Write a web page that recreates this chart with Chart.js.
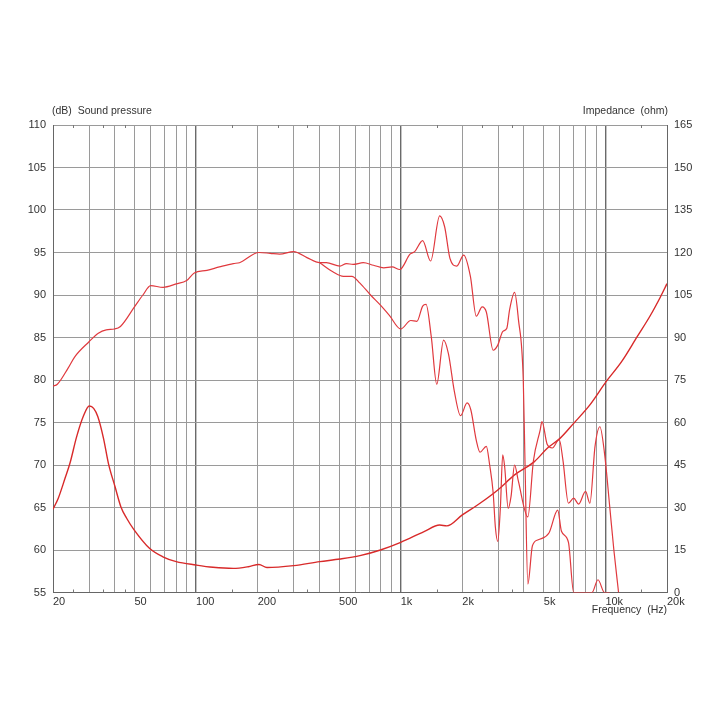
<!DOCTYPE html>
<html>
<head>
<meta charset="utf-8">
<script src="https://cdn.jsdelivr.net/npm/chart.js@4.4.1/dist/chart.umd.min.js"></script>
<style>
  html, body { margin: 0; padding: 0; background: #fff; }
</style>
</head>
<body>
<canvas id="chart" width="720" height="720"></canvas>
<script>
// frequency grid and labels (Hz)
const xGridValues = [20, 30, 40, 50, 60, 70, 80, 90, 100, 200, 300, 400, 500, 600, 700, 800, 900,
    1000, 2000, 3000, 4000, 5000, 6000, 7000, 8000, 9000, 10000, 20000];
const xLabelValues = [20, 50, 100, 200, 500, 1000, 2000, 5000, 10000, 20000];
const xLabelTexts = ["20", "50", "100", "200", "500", "1k", "2k", "5k", "10k", "20k"];
const xMinorTicks = [25, 35, 45, 150, 250, 350, 1500, 2500, 3500, 15000];
const decadeLines = [100, 1000, 10000];

// on-axis sound pressure (dB)
const freqA = [20, 21, 23.7, 25.5, 30, 33.3, 36.4, 40, 42.7, 50, 55, 60, 69, 80, 90, 98, 113, 130, 152, 163,
    203, 230, 256, 300, 348, 402, 433, 505, 543, 585, 656, 736, 826, 908, 990, 1110, 1170, 1280, 1400,
    1550, 1640, 1740, 1880, 2030, 2190, 2340, 2500, 2620, 2830, 2980, 3150, 3300, 3400, 3600, 3760,
    3970, 4050, 4180, 4400, 4700, 5300, 5850, 6100, 6600, 7000, 8600, 9200, 9900, 10500];
const splA = [79.3, 79.5, 81.4, 82.7, 84.5, 85.5, 85.9, 86.0, 86.3, 88.6, 90.0, 91.1, 90.9, 91.3, 91.7, 92.6, 92.9, 93.3, 93.7, 93.8,
    95.0, 94.9, 94.8, 95.1, 94.4, 93.8, 93.8, 93.4, 93.7, 93.6, 93.8, 93.5, 93.2, 93.3, 93.0, 94.8, 95.1, 96.4, 94.0,
    99.3, 98.0, 94.3, 93.4, 94.7, 92.2, 87.5, 88.6, 88.0, 83.5, 84.1, 85.7, 86.1, 88.2, 90.3, 87.1,
    80.0, 70.0, 56.0, 60.5, 61.2, 62.0, 64.7, 62.2, 60.9, 55, 55, 56.5, 55, 55];

// off-axis sound pressure (dB), splits from on-axis near 400 Hz
const freqB = [402, 468, 525, 577, 632, 712, 796, 880, 1000, 1120, 1200, 1280, 1330, 1410, 1500, 1620, 1710,
    1830, 1960, 2110, 2200, 2340, 2440, 2620, 2720, 2830, 2900, 2980, 3070, 3150, 3220, 3350, 3460, 3600,
    3750, 4180, 4450, 4800, 4900, 5200, 5500, 5950, 6200, 6600, 7000, 7400, 8000, 8400, 8900, 9400, 9900,
    10500, 11000, 11600];
const splB = [93.8, 92.7, 92.2, 92.2, 91.4, 90.0, 88.8, 87.6, 86.0, 87.0, 86.9, 88.7, 88.9, 85.1, 79.5, 84.7, 83.1,
    78.6, 75.8, 77.3, 76.5, 72.9, 71.5, 72.2, 70.0, 66.7, 62.7, 61.0, 65.1, 71.2, 69.8, 64.9, 66.3, 70.0,
    68.2, 63.9, 70.5, 74.1, 75.1, 72.4, 72.0, 73.0, 70.6, 65.5, 66.1, 65.4, 66.9, 65.5, 72.2, 74.5, 71.4,
    65.1, 60.0, 55];

// impedance (ohm)
const freqZ = [20, 21.2, 22.9, 24.2, 26.1, 28.1, 30.1, 31.6, 33.1, 35.3, 37.3, 40.2, 42.9, 45.8, 49.8, 59.2,
    68.8, 80, 100, 121, 152, 180, 203, 222, 300, 402, 505, 632, 796, 1000, 1300, 1550, 1680, 2000, 2440,
    2980, 3600, 4500, 5200, 6000, 7000, 8400, 10100, 12000, 14300, 16500, 18600, 20000];
const impedance = [29.4, 33.2, 40.3, 45.6, 55.0, 62.1, 65.8, 65.0, 62.1, 54.4, 45.6, 37.3, 30.3, 26.2, 22.1, 15.6,
    12.6, 10.9, 9.7, 8.9, 8.5, 9.1, 9.9, 8.8, 9.5, 10.9, 11.8, 13.0, 15.0, 17.7, 21.5, 23.8, 23.5, 27.4, 31.5,
    36.2, 41.5, 46.2, 50.9, 54.4, 59.7, 66.2, 74.5, 81.5, 90.3, 97.5, 104.4, 109];

const toPoints = (xs, ys) => xs.map((x, i) => ({ x: x, y: ys[i] }));

const red = "#e0393e";
const font = { family: "'Liberation Sans', Arial, sans-serif", size: 11 };

// captions around the plot and the small minor ticks on top/bottom edges
const extras = {
    id: "extras",
    afterDraw(chart) {
        const c = chart.ctx;
        const a = chart.chartArea;
        const xs = chart.scales.x;
        c.save();
        c.strokeStyle = "#777";
        c.lineWidth = 1;
        c.beginPath();
        xMinorTicks.forEach(v => {
            const px = Math.round(xs.getPixelForValue(v)) + 0.5;
            c.moveTo(px, a.top);
            c.lineTo(px, a.top + 3);
            c.moveTo(px, a.bottom);
            c.lineTo(px, a.bottom - 3);
        });
        c.stroke();
        c.fillStyle = "#333";
        c.font = "10.5px 'Liberation Sans', Arial, sans-serif";
        c.textBaseline = "middle";
        c.textAlign = "left";
        c.fillText("(dB)  Sound pressure", a.left - 1, a.top - 14);
        c.textAlign = "right";
        c.fillText("Impedance  (ohm)", a.right + 1, a.top - 14);
        c.fillText("Frequency  (Hz)", a.right, a.bottom + 18);
        c.restore();
    }
};

new Chart(document.getElementById("chart"), {
    type: "line",
    data: {
        datasets: [
            { label: "on-axis", data: toPoints(freqA, splA), yAxisID: "y", borderColor: red },
            { label: "off-axis", data: toPoints(freqB, splB), yAxisID: "y", borderColor: red },
            { label: "impedance", data: toPoints(freqZ, impedance), yAxisID: "y1", borderColor: "#d82a2a", borderWidth: 1.4 }
        ]
    },
    options: {
        responsive: false,
        animation: false,
        layout: { padding: { top: 125, bottom: 107, left: 0, right: 0 } },
        elements: {
            point: { radius: 0 },
            line: { borderWidth: 1.2, cubicInterpolationMode: "monotone", fill: false }
        },
        plugins: { legend: { display: false }, tooltip: { enabled: false } },
        scales: {
            x: {
                type: "logarithmic",
                min: 20,
                max: 20000,
                afterBuildTicks: s => { s.ticks = xGridValues.map(v => ({ value: v })); },
                afterFit: s => { s.height = 20.5; },
                grid: {
                    drawTicks: false,
                    color: ctx => (ctx.tick && decadeLines.includes(ctx.tick.value)) ? "#6a6a6a" : "#9a9a9a",
                    lineWidth: ctx => (ctx.tick && decadeLines.includes(ctx.tick.value)) ? 1.4 : 1
                },
                border: { color: "#666" },
                ticks: {
                    autoSkip: false,
                    maxRotation: 0,
                    align: "start",
                    padding: 3,
                    color: "#333",
                    font: font,
                    callback: v => {
                        const i = xLabelValues.indexOf(v);
                        return i >= 0 ? xLabelTexts[i] : "";
                    }
                }
            },
            y: {
                position: "left",
                min: 55,
                max: 110,
                afterFit: s => { s.width = 53; },
                grid: { drawTicks: false, color: "#9a9a9a" },
                border: { color: "#666" },
                ticks: { stepSize: 5, padding: 7, color: "#333", font: font }
            },
            y1: {
                position: "right",
                min: 0,
                max: 165,
                afterFit: s => { s.width = 53; },
                grid: { drawTicks: false, drawOnChartArea: false },
                border: { color: "#666" },
                ticks: { stepSize: 15, padding: 7, color: "#333", font: font }
            }
        }
    },
    plugins: [extras]
});
</script>
</body>
</html>
